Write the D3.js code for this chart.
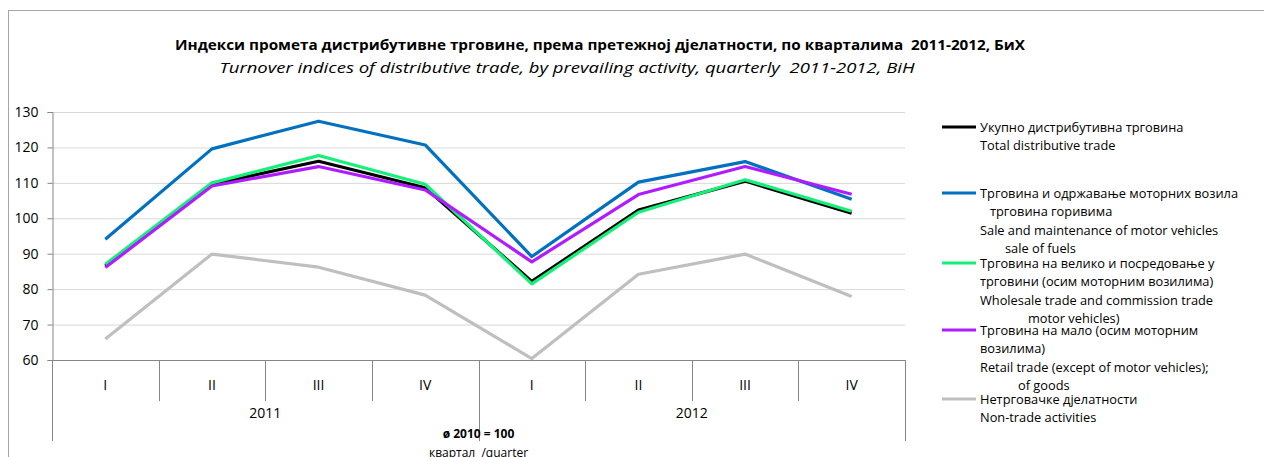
<!DOCTYPE html>
<html><head><meta charset="utf-8">
<script src="https://cdn.jsdelivr.net/npm/d3@7"></script>
<style>
html,body{margin:0;padding:0;background:#fff;}
svg{display:block;font-family:"Open Sans","Noto Sans",sans-serif;}
</style></head>
<body>
<svg id="c" width="1264" height="457"></svg>
<script>
const quarters = ["I","II","III","IV","I","II","III","IV"];
const years = ["2011","2012"];
const yTicks = [60,70,80,90,100,110,120,130];

const total     = [86.5, 109.6, 116.1, 108.6, 82.2, 102.3, 110.5, 101.4];
const motor     = [94.1, 119.6, 127.4, 120.7, 89.2, 110.2, 116.0, 105.4];
const wholesale = [87.0, 110.0, 117.7, 109.6, 81.5, 101.7, 110.9, 102.0];
const retail    = [86.1, 109.1, 114.6, 108.0, 87.7, 106.7, 114.6, 106.8];
const nontrade  = [65.9, 89.9, 86.2, 78.3, 60.4, 84.2, 89.9, 77.9];

const seriesNames = [
  ["Укупно дистрибутивна трговина","Total distributive trade"],
  ["Трговина и одржавање моторних возила","трговина горивима","Sale and maintenance of motor vehicles","sale of fuels"],
  ["Трговина на велико и посредовање у","трговини (осим моторним возилима)","Wholesale trade and commission trade","motor vehicles)"],
  ["Трговина на мало (осим моторним","возилима)","Retail trade (except of motor vehicles);","of goods"],
  ["Нетрговачке дјелатности","Non-trade activities"]
];
const colors = ["#000000","#0070C0","#14F07A","#B01CFF","#BFBFBF"];
const values = [total, motor, wholesale, retail, nontrade];

const titleBs = "Индекси промета дистрибутивне трговине, према претежној дјелатности, по кварталима\u00A0 2011-2012, БиХ";
const titleEn = "Turnover indices of distributive trade, by prevailing activity, quarterly\u00A0 2011-2012, BiH";
const baseNote = "ø 2010 = 100";
const axisNote = "квартал\u00A0 /quarter";

const svg = d3.select("#c");
const L = 52, R = 905, T = 112, B = 360;

// outer border
svg.append("rect").attr("x",8.5).attr("y",10.5).attr("width",1300).attr("height",500)
  .attr("fill","none").attr("stroke","#A6A6A6").attr("stroke-width",1);

const y = d3.scaleLinear().domain([60,130]).range([B,T]);
const x = d3.scaleBand().domain(d3.range(quarters.length)).range([L,R]);
const xc = i => x(i) + x.bandwidth()/2;

// gridlines
svg.append("g").selectAll("line").data(yTicks.filter(v=>v>60)).join("line")
  .attr("x1",L).attr("x2",R).attr("y1",d=>y(d)+0.5).attr("y2",d=>y(d)+0.5)
  .attr("stroke","#D9D9D9").attr("stroke-width",1);

// y axis
const ya = svg.append("g").attr("transform",`translate(${L+0.5},0)`)
  .call(d3.axisLeft(y).tickValues(yTicks).tickSize(5).tickPadding(9).tickFormat(d3.format("d")));
ya.select(".domain").attr("stroke","#868686");
ya.selectAll(".tick line").attr("stroke","#868686");
ya.selectAll(".tick text").attr("font-size",14).attr("fill","#000").attr("font-family","'Open Sans',sans-serif");

// x axis baseline
svg.append("line").attr("x1",L).attr("x2",R).attr("y1",B+0.5).attr("y2",B+0.5).attr("stroke","#868686");
// dividers
const bounds = d3.range(quarters.length+1).map(i => i<quarters.length ? x(i) : R);
svg.append("g").selectAll("line").data(bounds).join("line")
  .attr("x1",d=>Math.round(d)+0.5).attr("x2",d=>Math.round(d)+0.5)
  .attr("y1",B).attr("y2",(d,i)=> (i%4===0) ? 441 : 401)
  .attr("stroke","#868686");
// quarter labels
svg.append("g").selectAll("text").data(quarters).join("text")
  .attr("x",(d,i)=>xc(i)).attr("y",390).attr("text-anchor","middle")
  .attr("font-size",14).attr("fill","#000").text(d=>d);
// year labels
svg.append("g").selectAll("text").data(years).join("text")
  .attr("x",(d,i)=> (x(i*4) + (i*4+4<quarters.length ? x(i*4+4) : R))/2).attr("y",418)
  .attr("text-anchor","middle").attr("font-size",14).attr("fill","#000").text(d=>d);

svg.append("text").attr("x",x(4)).attr("y",438).attr("text-anchor","middle")
  .attr("font-size",12).attr("font-weight","bold").text(baseNote);
svg.append("text").attr("x",x(4)).attr("y",457).attr("text-anchor","middle")
  .attr("font-size",12).text(axisNote);

// titles
svg.append("text").attr("x",600).attr("y",50).attr("text-anchor","middle")
  .attr("font-size",13.5).attr("font-weight","bold").attr("textLength",850).attr("lengthAdjust","spacingAndGlyphs").text(titleBs);
svg.append("text").attr("x",567).attr("y",73).attr("text-anchor","middle")
  .attr("font-size",14).attr("font-style","italic").attr("textLength",695).attr("lengthAdjust","spacingAndGlyphs").text(titleEn);

// lines
const line = d3.line().x((d,i)=>xc(i)).y(d=>y(d));
svg.append("g").selectAll("path").data(values).join("path")
  .attr("d",d=>line(d)).attr("fill","none")
  .attr("stroke",(d,i)=>colors[i]).attr("stroke-width",3.2)
  .attr("stroke-linejoin","round").attr("stroke-linecap","butt");

// legend
const legY = [127,193,263,330,399];
const indents = {"1-1":10,"1-3":25,"2-3":48,"3-3":38};
const lg = svg.append("g");
seriesNames.forEach((names,i)=>{
  lg.append("line").attr("x1",942).attr("x2",976).attr("y1",legY[i]).attr("y2",legY[i])
    .attr("stroke",colors[i]).attr("stroke-width",3.2);
  names.forEach((t,j)=>{
    lg.append("text").attr("x",980 + (indents[i+"-"+j]||0)).attr("y",legY[i]+5+j*18.4)
      .attr("font-size",12.8).attr("fill","#000").text(t);
  });
});
</script>
</body></html>
